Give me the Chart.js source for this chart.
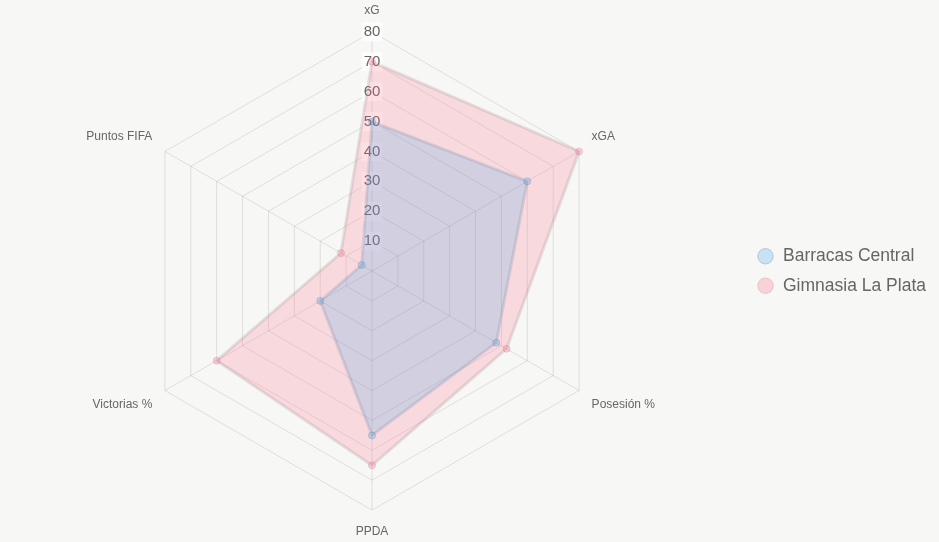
<!DOCTYPE html>
<html>
<head>
<meta charset="utf-8">
<script src="https://cdn.jsdelivr.net/npm/chart.js@4"></script>
<style>
  html, body { margin: 0; padding: 0; background: #f7f7f5; }
  #wrap { width: 939px; height: 542px; }
</style>
</head>
<body>
<div id="wrap"><canvas id="radarChart"></canvas></div>
<script>
const labels = ['xG', 'xGA', 'Posesión %', 'PPDA', 'Victorias %', 'Puntos FIFA'];
const barracas = [50, 60, 48, 55, 20, 4];
const gimnasia = [70, 80, 52, 65, 60, 12];
const tickValues = [0, 10, 20, 30, 40, 50, 60, 70, 80];

Chart.defaults.font.family = "'Liberation Sans', Arial, sans-serif";
Chart.defaults.color = '#666';

const ctx = document.getElementById('radarChart').getContext('2d');
new Chart(ctx, {
    type: 'radar',
    data: {
        labels: labels,
        datasets: [{
            label: 'Barracas Central',
            data: barracas,
            backgroundColor: 'rgba(54, 162, 235, 0.2)',
            borderColor: 'rgba(120, 130, 160, 0.22)',
            borderWidth: 3,
            pointBackgroundColor: 'rgba(54, 162, 235, 0.25)',
            pointBorderColor: 'rgba(100, 120, 160, 0.3)',
            pointBorderWidth: 1,
            pointRadius: 3.5
        }, {
            label: 'Gimnasia La Plata',
            data: gimnasia,
            backgroundColor: 'rgba(255, 99, 132, 0.2)',
            borderColor: 'rgba(150, 130, 135, 0.22)',
            borderWidth: 3,
            pointBackgroundColor: 'rgba(255, 99, 132, 0.25)',
            pointBorderColor: 'rgba(200, 120, 140, 0.3)',
            pointBorderWidth: 1,
            pointRadius: 3.5
        }]
    },
    options: {
        responsive: true,
        maintainAspectRatio: false,
        animation: false,
        layout: {
            padding: { top: 3, right: 3, bottom: 3 }
        },
        scales: {
            r: {
                min: tickValues[0],
                max: tickValues[tickValues.length - 1],
                ticks: {
                    stepSize: 10,
                    font: { size: 15 },
                    color: '#666',
                    backdropColor: 'rgba(255, 255, 255, 0.75)'
                },
                pointLabels: {
                    font: { size: 12 },
                    color: '#666'
                },
                grid: { color: 'rgba(0, 0, 0, 0.1)' },
                angleLines: { color: 'rgba(0, 0, 0, 0.1)' }
            }
        },
        plugins: {
            legend: {
                position: 'right',
                labels: {
                    usePointStyle: true,
                    boxWidth: 18,
                    boxHeight: 11,
                    padding: 12,
                    font: { size: 17.5 },
                    color: '#666'
                }
            },
            tooltip: { enabled: false }
        }
    }
});
</script>
</body>
</html>
